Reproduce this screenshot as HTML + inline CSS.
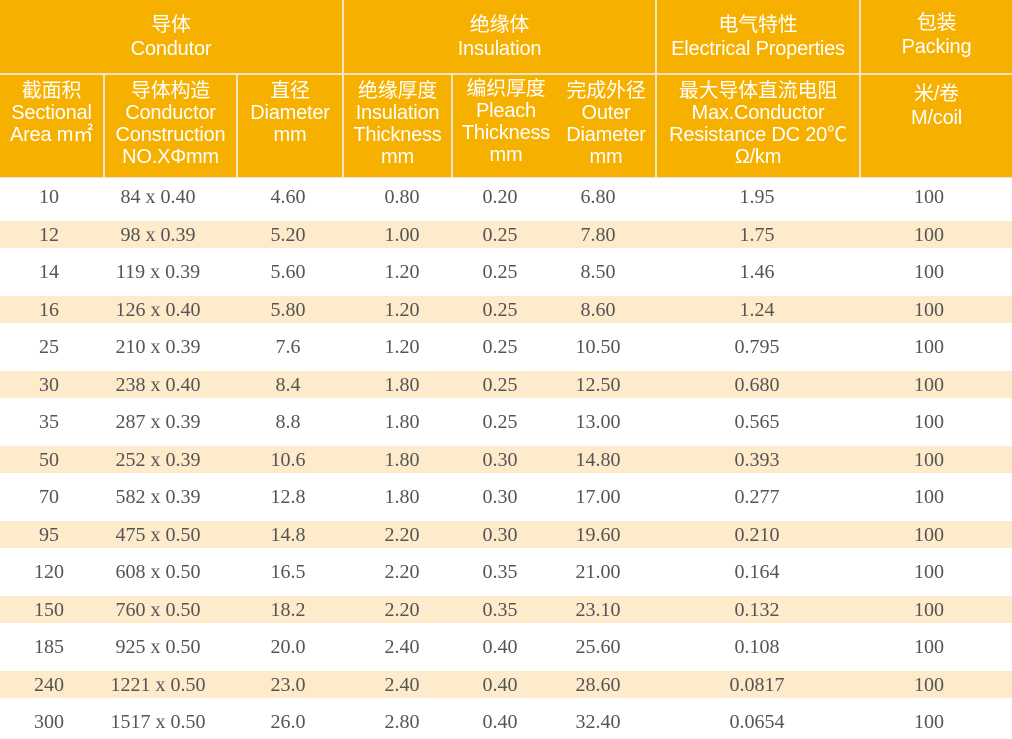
<!DOCTYPE html>
<html><head><meta charset="utf-8"><style>
body{margin:0;width:1012px;height:739px;background:#fff;position:relative;overflow:hidden}
.h{position:absolute;background:#F5B000;color:#fff;font-family:"Liberation Sans","Noto Sans CJK SC",sans-serif;font-size:20px;line-height:22px;text-align:center;box-sizing:border-box;white-space:nowrap;letter-spacing:-0.2px}
.s{position:absolute;left:0;width:1012px;height:27px;background:#FDEBCB}
.d{position:absolute;font-family:"Liberation Serif",serif;font-size:20px;color:#555;line-height:24px;transform:translateX(-50%);white-space:nowrap}
</style></head><body>
<div style="position:absolute;left:0;top:0;width:1012px;height:178px;background:#F0E4C8"></div>
<div class="h" style="left:0;top:0;width:342px;height:73px;padding-top:13px;line-height:24px">导体<br>Condutor</div>
<div class="h" style="left:344px;top:0;width:311px;height:73px;padding-top:13px;line-height:24px">绝缘体<br>Insulation</div>
<div class="h" style="left:657px;top:0;width:202px;height:73px;padding-top:13px;line-height:24px">电气特性<br>Electrical Properties</div>
<div class="h" style="left:861px;top:0;width:151px;height:73px;padding-top:11px;line-height:24px">包装<br>Packing</div>
<div class="h" style="left:0;top:75px;width:103px;height:102px;padding-top:5px">截面积<br>Sectional<br>Area m㎡</div>
<div class="h" style="left:105px;top:75px;width:131px;height:102px;padding-top:5px">导体构造<br>Conductor<br>Construction<br>NO.XΦmm</div>
<div class="h" style="left:238px;top:75px;width:104px;height:102px;padding-top:5px">直径<br>Diameter<br>mm</div>
<div class="h" style="left:344px;top:75px;width:107px;height:102px;padding-top:5px">绝缘厚度<br>Insulation<br>Thickness<br>mm</div>
<div class="h" style="left:453px;top:75px;width:106px;height:102px;padding-top:3px">编织厚度<br>Pleach<br>Thickness<br>mm</div>
<div class="h" style="left:557px;top:75px;width:98px;height:102px;padding-top:5px">完成外径<br>Outer<br>Diameter<br>mm</div>
<div class="h" style="left:657px;top:75px;width:202px;height:102px;padding-top:5px">最大导体直流电阻<br>Max.Conductor<br>Resistance DC 20℃<br>Ω/km</div>
<div class="h" style="left:861px;top:75px;width:151px;height:102px;padding-top:7px;line-height:24px">米/卷<br>M/coil</div>
<div id="rows"></div>
<script>
var d=[["10","84 x 0.40","4.60","0.80","0.20","6.80","1.95","100"],
["12","98 x 0.39","5.20","1.00","0.25","7.80","1.75","100"],
["14","119 x 0.39","5.60","1.20","0.25","8.50","1.46","100"],
["16","126 x 0.40","5.80","1.20","0.25","8.60","1.24","100"],
["25","210 x 0.39","7.6","1.20","0.25","10.50","0.795","100"],
["30","238 x 0.40","8.4","1.80","0.25","12.50","0.680","100"],
["35","287 x 0.39","8.8","1.80","0.25","13.00","0.565","100"],
["50","252 x 0.39","10.6","1.80","0.30","14.80","0.393","100"],
["70","582 x 0.39","12.8","1.80","0.30","17.00","0.277","100"],
["95","475 x 0.50","14.8","2.20","0.30","19.60","0.210","100"],
["120","608 x 0.50","16.5","2.20","0.35","21.00","0.164","100"],
["150","760 x 0.50","18.2","2.20","0.35","23.10","0.132","100"],
["185","925 x 0.50","20.0","2.40","0.40","25.60","0.108","100"],
["240","1221 x 0.50","23.0","2.40","0.40","28.60","0.0817","100"],
["300","1517 x 0.50","26.0","2.80","0.40","32.40","0.0654","100"]];
var cx=[49,158,288,402,500,598,757,929],h="";
for(var i=0;i<d.length;i++){var c=197+37.5*i;
if(i%2)h+='<div class="s" style="top:'+(c-13.5)+'px"></div>';
for(var j=0;j<8;j++)h+='<div class="d" style="left:'+cx[j]+'px;top:'+(c-12)+'px">'+d[i][j]+'</div>';}
document.getElementById("rows").innerHTML=h;
</script>
</body></html>
